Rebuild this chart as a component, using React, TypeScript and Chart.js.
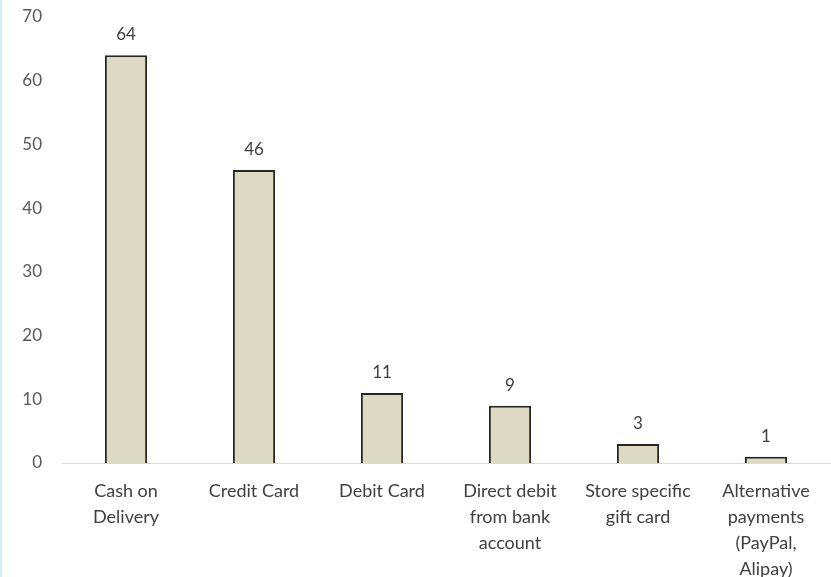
import React, { useEffect, useRef } from "react";
import { Chart, registerables } from "chart.js";

Chart.register(...registerables);

const categories: string[][] = [
  ["Cash on", "Delivery"],
  ["Credit Card"],
  ["Debit Card"],
  ["Direct debit", "from bank", "account"],
  ["Store specific", "gift card"],
  ["Alternative", "payments", "(PayPal,", "Alipay)"],
];
const values: number[] = [64, 46, 11, 9, 3, 1];
const yTicks: number[] = [0, 10, 20, 30, 40, 50, 60, 70];

const FONT = "Lato, 'Open Sans', sans-serif";
const TEXT = "#404040";

const valueLabels = {
  id: "valueLabels",
  afterDatasetsDraw(chart: any) {
    const ctx = chart.ctx;
    const meta = chart.getDatasetMeta(0);
    ctx.save();
    ctx.font = `17px ${FONT}`;
    ctx.fillStyle = TEXT;
    ctx.textAlign = "center";
    ctx.textBaseline = "bottom";
    meta.data.forEach((bar: any, i: number) => {
      ctx.fillText(String(values[i]), bar.x, bar.y - 12);
    });
    ctx.restore();
  },
};

export default function App() {
  const ref = useRef<HTMLCanvasElement | null>(null);
  useEffect(() => {
    document.body.style.margin = "0";
    if (!ref.current) return;
    const chart = new Chart(ref.current, {
      type: "bar",
      data: {
        labels: categories,
        datasets: [
          {
            data: values,
            backgroundColor: "#ddd9c4",
            borderColor: "#262626",
            borderWidth: 2,
            borderSkipped: "bottom",
            categoryPercentage: 1,
            barPercentage: 0.33,
          },
        ],
      },
      options: {
        responsive: false,
        animation: false,
        maintainAspectRatio: false,
        layout: { padding: { top: 17, right: 1, left: 0, bottom: 0 } },
        plugins: { legend: { display: false }, tooltip: { enabled: false } },
        scales: {
          x: {
            grid: { display: false, drawTicks: false },
            border: { display: true, color: "#d9d9d9", width: 1 },
            ticks: {
              color: TEXT,
              font: { family: FONT, size: 18, lineHeight: "26px" },
              padding: 15,
              maxRotation: 0,
              autoSkip: false,
            },
            afterFit: (s: any) => {
              s.height = 114;
              s.paddingLeft = 0;
              s.paddingRight = 0;
            },
          },
          y: {
            min: 0,
            max: 70,
            grid: { display: false, drawTicks: false },
            border: { display: false },
            afterBuildTicks: (s: any) => {
              s.ticks = yTicks.map((v) => ({ value: v }));
            },
            ticks: {
              color: "#595959",
              font: { family: FONT, size: 17 },
              padding: 20,
            },
            afterFit: (s: any) => {
              s.width = 62;
              s.paddingTop = 0;
              s.paddingBottom = 0;
            },
          },
        },
      },
      plugins: [valueLabels],
    });
    return () => chart.destroy();
  }, []);
  return (
    <div
      style={{
        position: "relative",
        width: 831,
        height: 577,
        background: "#ffffff",
        overflow: "hidden",
      }}
    >
      <canvas ref={ref} width={831} height={577} style={{ display: "block" }} />
      <div
        style={{
          position: "absolute",
          left: 0,
          top: 0,
          width: 2,
          height: 577,
          background: "#d6eaf8",
        }}
      />
    </div>
  );
}
